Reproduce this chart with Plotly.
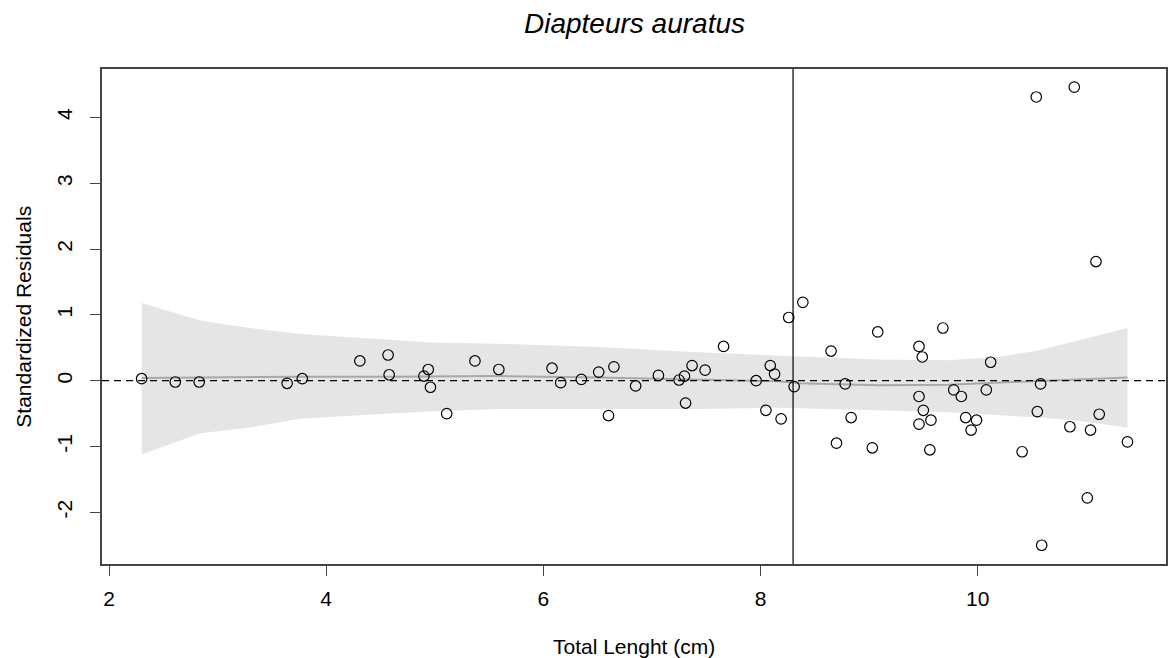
import plotly.graph_objects as go

# ---- data ----
total_length = [2.30, 2.61, 2.83, 3.64, 3.78, 4.31, 4.57, 4.58, 4.90, 4.94, 4.96, 5.11,
                5.37, 5.59, 6.08, 6.16, 6.35, 6.51, 6.60, 6.65, 6.85, 7.06, 7.25, 7.30,
                7.31, 7.37, 7.49, 7.66, 7.96, 8.05, 8.09, 8.13, 8.19, 8.26, 8.31, 8.39,
                8.65, 8.70, 8.78, 8.835, 9.03, 9.08, 9.46, 9.49, 9.46, 9.50, 9.46, 9.57,
                9.56, 9.68, 9.78, 9.85, 9.89, 9.99, 9.94, 10.12, 10.08, 10.41, 10.58, 10.55,
                10.85, 11.04, 11.12, 11.38, 11.01, 10.59, 10.54, 10.89, 11.09]
std_resid = [0.03, -0.02, -0.02, -0.04, 0.03, 0.30, 0.39, 0.09, 0.07, 0.17, -0.10, -0.50,
             0.30, 0.17, 0.19, -0.03, 0.02, 0.13, -0.53, 0.21, -0.08, 0.08, 0.01, 0.07,
             -0.34, 0.23, 0.16, 0.52, 0.00, -0.45, 0.23, 0.10, -0.58, 0.96, -0.09, 1.19,
             0.45, -0.95, -0.05, -0.56, -1.02, 0.74, 0.52, 0.36, -0.24, -0.45, -0.66, -0.60,
             -1.05, 0.80, -0.14, -0.24, -0.56, -0.60, -0.75, 0.28, -0.14, -1.08, -0.05, -0.47,
             -0.70, -0.75, -0.51, -0.93, -1.78, -2.50, 4.31, 4.46, 1.81]

# smoother and confidence band
smooth_x = [2.30, 2.84, 3.30, 3.76, 4.58, 4.95, 5.59, 6.51, 7.43, 8.17, 8.35, 8.63, 9.09,
            9.73, 10.19, 10.56, 10.92, 11.38]
smooth_y = [0.04, 0.05, 0.05, 0.06, 0.06, 0.06, 0.07, 0.05, 0.02, -0.01, -0.04, -0.05, -0.07,
            -0.06, -0.03, 0.00, 0.02, 0.05]
band_upper = [1.18, 0.915, 0.80, 0.71, 0.62, 0.58, 0.56, 0.51, 0.43, 0.38, 0.37, 0.35, 0.32,
              0.31, 0.36, 0.46, 0.61, 0.80]
band_lower = [-1.12, -0.80, -0.71, -0.58, -0.50, -0.47, -0.43, -0.43, -0.43, -0.41, -0.42,
              -0.43, -0.45, -0.48, -0.52, -0.56, -0.61, -0.71]

cut_length = 8.30
x_ticks = [2, 4, 6, 8, 10]
x_tick_labels = ["2", "4", "6", "8", "10"]
y_ticks = [-2, -1, 0, 1, 2, 3, 4]
y_tick_labels = ["-2", "-1", "0", "1", "2", "3", "4"]

title_text = "Diapteurs auratus"
x_title = "Total Lenght (cm)"
y_title = "Standardized Residuals"

FONT = "Liberation Sans, Arial, sans-serif"
AX = "#444444"

fig = go.Figure()
fig.add_trace(go.Scatter(x=smooth_x + smooth_x[::-1], y=band_upper + band_lower[::-1],
                         fill="toself", fillcolor="#e5e5e5", line=dict(width=0),
                         mode="lines", hoverinfo="skip", showlegend=False))
fig.add_trace(go.Scatter(x=smooth_x, y=smooth_y, mode="lines",
                         line=dict(color="#a8a8a8", width=2), showlegend=False))
fig.add_trace(go.Scatter(x=total_length, y=std_resid, mode="markers",
                         marker=dict(symbol="circle-open", size=10.5, color="#000000",
                                     line=dict(width=1.2, color="#000000")),
                         showlegend=False))

fig.add_shape(type="line", xref="paper", x0=0, x1=1, yref="y", y0=0, y1=0,
              line=dict(color="#000000", width=1.2, dash="7px,5px"), layer="above")
fig.add_shape(type="line", xref="x", x0=cut_length, x1=cut_length, yref="paper", y0=0, y1=1,
              line=dict(color="#000000", width=1.2), layer="above")

fig.add_annotation(text=title_text, xref="paper", yref="paper", x=0.5, y=1.091,
                   showarrow=False, xanchor="center", yanchor="middle",
                   font=dict(family=FONT, size=28, color="#000000", style="italic"))
fig.add_annotation(text=x_title, xref="paper", yref="paper", x=0.5, y=-0.166,
                   showarrow=False, xanchor="center", yanchor="middle",
                   font=dict(family=FONT, size=21, color="#000000"))
fig.add_annotation(text=y_title, xref="paper", yref="paper", x=-0.0741, y=0.5,
                   showarrow=False, xanchor="center", yanchor="middle", textangle=-90,
                   font=dict(family=FONT, size=21, color="#000000"))

fig.update_layout(
    width=1169, height=658,
    margin=dict(l=102, r=1, t=69, b=94),
    paper_bgcolor="white", plot_bgcolor="white",
    font=dict(family=FONT, size=21, color="#000000"),
    showlegend=False,
)
fig.update_xaxes(range=[1.935, 11.735], tickvals=x_ticks, ticktext=x_tick_labels,
                 ticks="outside", ticklen=10,
                 tickwidth=1.3, tickcolor=AX, showline=True, linecolor=AX, linewidth=1.6,
                 mirror=True, showgrid=False, zeroline=False, ticklabelstandoff=5,
                 tickfont=dict(family=FONT, size=21, color="#000000"))
fig.update_yaxes(range=[-2.785, 4.735], tickvals=y_ticks, ticktext=y_tick_labels,
                 ticks="outside", ticklen=10,
                 tickwidth=1.3, tickcolor=AX, showline=True, linecolor=AX, linewidth=1.6,
                 mirror=True, showgrid=False, zeroline=False, tickangle=-90,
                 ticklabelstandoff=10,
                 tickfont=dict(family=FONT, size=21, color="#000000"))

fig.write_html("out.html")
